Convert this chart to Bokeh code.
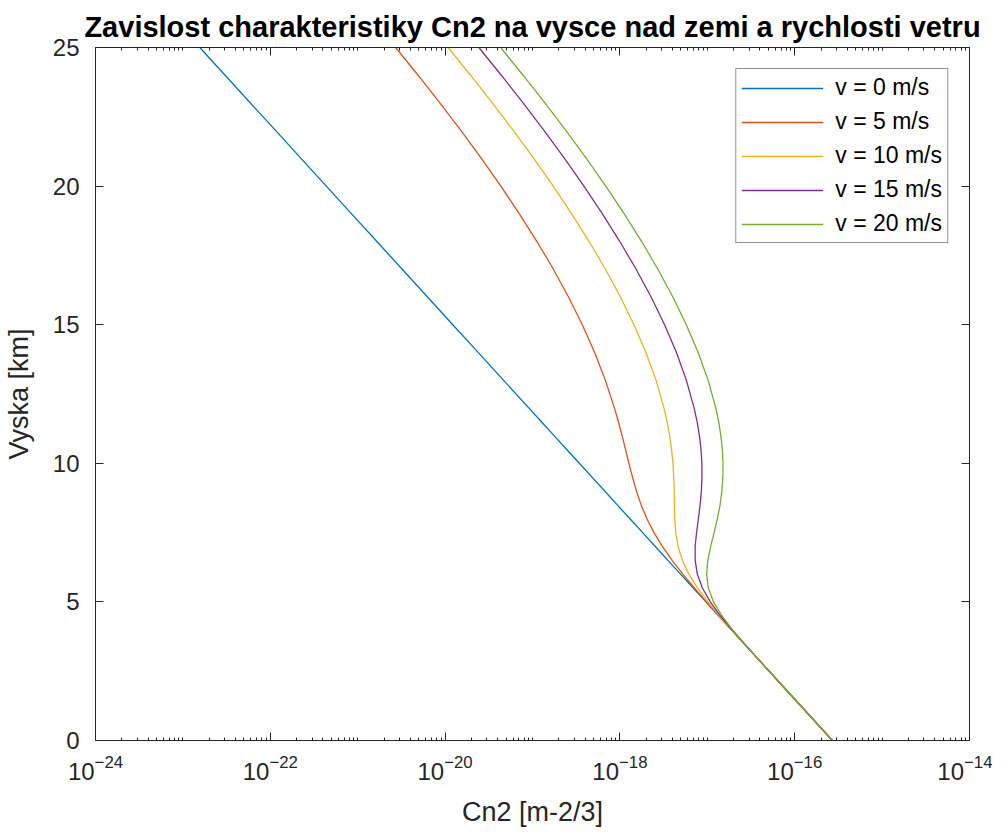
from bokeh.plotting import figure
from bokeh.models import (LinearAxis, FixedTicker, Legend, LegendItem,
                          Range1d, CustomJSTickFormatter)
from bokeh.embed import file_html
from bokeh.resources import INLINE

# Heights [km]
heights_km = [0, 1, 2, 3, 4, 4.5, 5, 5.5, 6, 6.5, 7, 7.5, 8, 8.5, 9, 9.5, 10, 10.5,
              11, 11.5, 12, 13, 14, 15, 16, 17, 18, 19, 20, 21, 22, 23, 24, 25]

# log10(Cn2), one list per wind speed
log_cn2_v0 = [-15.569, -15.858, -16.148, -16.437, -16.727, -16.872, -17.016, -17.161,
              -17.306, -17.451, -17.595, -17.740, -17.885, -18.030, -18.174, -18.319,
              -18.464, -18.609, -18.753, -18.898, -19.043, -19.333, -19.622, -19.912,
              -20.201, -20.491, -20.780, -21.070, -21.359, -21.649, -21.938, -22.228,
              -22.517, -22.807]
log_cn2_v5 = [-15.569, -15.858, -16.148, -16.437, -16.726, -16.869, -17.010, -17.148,
              -17.280, -17.403, -17.514, -17.610, -17.691, -17.757, -17.811, -17.856,
              -17.897, -17.936, -17.975, -18.017, -18.063, -18.167, -18.289, -18.430,
              -18.588, -18.761, -18.949, -19.150, -19.362, -19.585, -19.818, -20.060,
              -20.309, -20.566]
log_cn2_v10 = [-15.569, -15.858, -16.148, -16.437, -16.723, -16.862, -16.993, -17.111,
               -17.210, -17.285, -17.334, -17.361, -17.373, -17.377, -17.379, -17.384,
               -17.393, -17.409, -17.431, -17.460, -17.496, -17.587, -17.702, -17.839,
               -17.994, -18.165, -18.352, -18.552, -18.763, -18.986, -19.218, -19.460,
               -19.709, -19.966]
log_cn2_v15 = [-15.569, -15.858, -16.148, -16.436, -16.719, -16.850, -16.965, -17.056,
               -17.114, -17.139, -17.139, -17.123, -17.102, -17.082, -17.068, -17.061,
               -17.062, -17.072, -17.090, -17.117, -17.151, -17.240, -17.353, -17.489,
               -17.643, -17.814, -18.001, -18.200, -18.412, -18.634, -18.867, -19.108,
               -19.357, -19.614]
log_cn2_v20 = [-15.569, -15.858, -16.148, -16.436, -16.712, -16.833, -16.929, -16.988,
               -17.008, -16.994, -16.961, -16.922, -16.885, -16.854, -16.833, -16.822,
               -16.820, -16.828, -16.845, -16.870, -16.903, -16.991, -17.104, -17.240,
               -17.394, -17.565, -17.751, -17.950, -18.162, -18.384, -18.617, -18.858,
               -19.108, -19.365]

series_labels = ["v = 0 m/s", "v = 5 m/s", "v = 10 m/s", "v = 15 m/s", "v = 20 m/s"]
series_colors = ["#0072BD", "#D95319", "#EDB120", "#7E2F8E", "#77AC30"]
series_data = [log_cn2_v0, log_cn2_v5, log_cn2_v10, log_cn2_v15, log_cn2_v20]

x_major_exps = [-24, -22, -20, -18, -16, -14]
y_ticks = [0, 5, 10, 15, 20, 25]

FONT = "Liberation Sans"
AX = "#262626"

x_major = [10.0 ** e for e in x_major_exps]
x_minor = []
for e in range(-24, -14):
    for m in range(1, 10):
        if m == 1 and e % 2 == 0:
            continue
        x_minor.append(m * 10.0 ** e)

p = figure(width=992, height=833, x_axis_type="log",
           x_range=Range1d(1e-24, 1e-14), y_range=Range1d(0, 25),
           output_backend="svg", toolbar_location=None,
           min_border_left=94, min_border_right=23, min_border_top=47,
           min_border_bottom=93,
           title="Zavislost charakteristiky Cn2 na vysce nad zemi a rychlosti vetru")

p.title.text_font = FONT
p.title.text_font_size = "29px"
p.title.text_font_style = "bold"
p.title.align = "center"
p.title.text_color = "black"
p.title.standoff = 9

p.xgrid.visible = False
p.ygrid.visible = False
p.outline_line_color = AX
p.outline_line_width = 1
p.background_fill_color = "white"
p.border_fill_color = "white"

renderers = []
for vals, col in zip(series_data, series_colors):
    xs = [10.0 ** v for v in vals]
    r = p.line(xs, heights_km, line_color=col, line_width=1.3)
    renderers.append(r)


def style_axis(ax):
    ax.axis_line_color = AX
    ax.major_tick_line_color = AX
    ax.minor_tick_line_color = AX
    ax.major_tick_in = 8
    ax.major_tick_out = 0
    ax.minor_tick_in = 3
    ax.minor_tick_out = 0
    ax.major_label_text_font = FONT
    ax.major_label_text_color = AX
    ax.major_label_text_font_size = "24px"
    ax.axis_label_text_font = FONT
    ax.axis_label_text_font_style = "normal"
    ax.axis_label_text_color = AX
    ax.axis_label_text_font_size = "27px"


xa = p.xaxis[0]
xa.ticker = FixedTicker(ticks=x_major, minor_ticks=x_minor)
xa.axis_label = "Cn2 [m-2/3]"
style_axis(xa)
xa.major_label_standoff = 14
xa.axis_label_standoff = 14

ya = p.yaxis[0]
ya.ticker = FixedTicker(ticks=y_ticks)
ya.axis_label = "Vyska [km]"
style_axis(ya)
ya.minor_tick_in = 0
ya.major_label_standoff = 16
ya.axis_label_standoff = 16

blank = CustomJSTickFormatter(code="return ''")

top = LinearAxis(ticker=FixedTicker(ticks=x_major, minor_ticks=x_minor), formatter=blank)
style_axis(top)
top.major_label_standoff = 0
p.add_layout(top, "above")

right = LinearAxis(ticker=FixedTicker(ticks=y_ticks), formatter=blank)
style_axis(right)
right.minor_tick_in = 0
right.major_label_standoff = 0
p.add_layout(right, "right")

items = [LegendItem(label=lab, renderers=[r]) for lab, r in zip(series_labels, renderers)]
legend = Legend(items=items, location="top_right")
legend.border_line_color = AX
legend.border_line_width = 1
legend.background_fill_color = "white"
legend.background_fill_alpha = 1
legend.label_text_font = FONT
legend.label_text_font_size = "23px"
legend.label_text_color = "black"
legend.glyph_width = 82
legend.glyph_height = 20
legend.label_height = 20
legend.spacing = 7
legend.padding = 5
legend.margin = 21
legend.label_standoff = 12
p.add_layout(legend, "center")

open("out.html", "w").write(file_html(p, INLINE))
